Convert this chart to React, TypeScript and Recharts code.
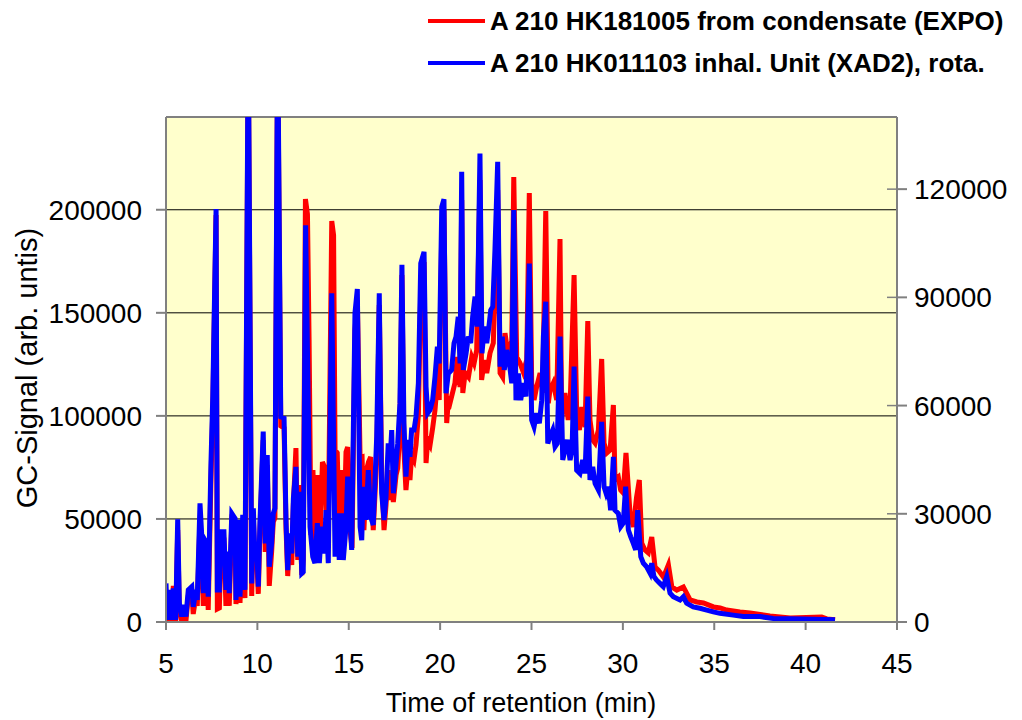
import { LineChart, Line, XAxis, YAxis, CartesianGrid, ReferenceLine } from 'recharts';

// retention time (min), GC signal — A 210 HK181005 from condensate (left axis)
const condensateTrace: [number, number][] = [
    [5.00, 15500], [5.07, 500], [5.22, 14600], [5.31, 500], [5.40, 17500], [5.53, 500], [5.64, 44600], [5.73, 5800],
    [5.86, 500], [5.98, 4900], [6.09, 500], [6.22, 12600], [6.41, 14600], [6.49, 3900], [6.64, 12600], [6.71, 7800],
    [6.86, 49500], [6.95, 37400], [7.04, 7800], [7.13, 34000], [7.23, 32000], [7.31, 5800], [7.46, 68900], [7.56, 102800],
    [7.74, 197400], [7.81, 6300], [7.92, 6800], [8.01, 39800], [8.17, 39800], [8.28, 7800], [8.38, 30100], [8.46, 7800],
    [8.60, 48500], [8.78, 46100], [8.83, 8700], [8.96, 45600], [9.05, 9200], [9.20, 47100], [9.32, 11600], [9.50, 280000],
    [9.69, 12600], [9.78, 50500], [9.87, 25200], [9.96, 32000], [10.05, 13600], [10.14, 43700], [10.32, 88300], [10.43, 34000],
    [10.54, 76200], [10.65, 17500], [10.78, 34000], [10.87, 48500], [10.96, 50500], [11.11, 280000], [11.28, 95100], [11.46, 94100],
    [11.57, 44600], [11.66, 22300], [11.75, 39800], [11.88, 27700], [11.97, 56800], [12.11, 84400], [12.21, 30100], [12.29, 66500],
    [12.43, 22800], [12.51, 30100], [12.63, 205200], [12.74, 197900], [12.83, 136800],
    [12.93, 42200], [13.04, 73700], [13.18, 37400], [13.32, 71300], [13.43, 39800], [13.56, 77600], [13.70, 74700], [13.81, 44600],
    [13.92, 76200], [14.07, 194500], [14.17, 187700], [14.25, 83400], [14.37, 82000], [14.49, 39800], [14.63, 73700], [14.74, 44600],
    [14.85, 82500], [14.94, 84900], [15.07, 44600], [15.18, 35900], [15.34, 141600], [15.47, 156200], [15.62, 79600], [15.73, 80000],
    [15.83, 44600], [15.97, 73700], [16.08, 77600], [16.20, 80000], [16.34, 44600], [16.53, 78600], [16.67, 153800], [16.80, 72300],
    [16.93, 44600], [17.04, 56800], [17.16, 73700], [17.26, 59200], [17.35, 69900], [17.44, 58200], [17.59, 71300], [17.68, 74700],
    [17.80, 93100], [17.91, 168300], [18.02, 83400], [18.13, 64000], [18.26, 77600], [18.35, 68900], [18.44, 81000], [18.57, 78600],
    [18.68, 85900], [18.81, 100400], [18.94, 161100], [19.12, 174600], [19.23, 77100], [19.32, 88300], [19.45, 85900], [19.59, 94100],
    [19.72, 102800], [19.85, 117400], [19.95, 107700], [20.09, 190200], [20.21, 199900], [20.36, 96500], [20.45, 107700],
    [20.54, 106200], [20.81, 115900], [20.94, 128600], [21.09, 114000], [21.18, 204700], [21.24, 111100], [21.37, 120800], [21.55, 118800],
    [21.73, 128600], [21.86, 125600], [22.00, 131900], [22.18, 214400], [22.27, 117400], [22.42, 127100], [22.55, 120800], [22.73, 130500],
    [22.91, 135300], [23.15, 209600], [23.28, 120800], [23.42, 118800], [23.55, 140200], [23.68, 131900], [23.82, 134400], [23.91, 127100],
    [24.03, 215900], [24.19, 128600], [24.37, 125600], [24.55, 121300], [24.74, 127100], [24.88, 208100], [25.01, 115900], [25.14, 107700],
    [25.28, 114000], [25.47, 120800], [25.61, 111100], [25.78, 199400], [25.92, 106200], [26.01, 112500], [26.19, 115900], [26.38, 107700],
    [26.56, 185800], [26.65, 98000], [26.83, 111100], [27.01, 98000], [27.11, 104300], [27.33, 168300], [27.47, 102800], [27.62, 93100],
    [27.75, 104300], [27.93, 94600], [28.08, 146000], [28.20, 98000], [28.35, 88300], [28.48, 86800], [28.66, 93100], [28.84, 127600],
    [28.97, 86800], [29.12, 82000], [29.30, 83400], [29.48, 105300], [29.57, 68900], [29.75, 70300], [29.88, 64000], [30.02, 62600],
    [30.17, 82000], [30.39, 52900], [30.57, 46100], [30.75, 60600], [30.90, 68900], [31.03, 38300], [31.21, 34900], [31.39, 33500],
    [31.58, 41200], [31.76, 26700], [31.94, 25200], [32.22, 21800], [32.49, 27700], [32.68, 17000], [32.95, 15500], [33.31, 17000],
    [33.68, 10700], [34.05, 9700], [34.41, 9200], [34.96, 7300], [35.32, 6800], [35.68, 5800], [36.41, 4900], [36.96, 4400],
    [38.05, 2900], [39.15, 1900], [40.88, 2400], [41.16, 1500], [41.61, 1100],
];

// retention time (min), GC signal — A 210 HK011103 inhal. unit (right axis)
const inhalationTrace: [number, number][] = [
    [5.00, 10700], [5.07, 600], [5.22, 8900], [5.31, 600], [5.40, 9300], [5.53, 600], [5.64, 28500], [5.73, 5200],
    [5.86, 1500], [5.98, 4700], [6.09, 1500], [6.22, 8900], [6.41, 9800], [6.49, 4200], [6.64, 8900], [6.71, 6100],
    [6.86, 32900], [6.95, 24600], [7.04, 8000], [7.13, 22700], [7.23, 21800], [7.31, 7000], [7.46, 44000], [7.56, 62500],
    [7.74, 114500], [7.81, 8900], [7.92, 8900], [8.01, 25000], [8.17, 25000], [8.28, 8900], [8.38, 19500], [8.46, 8000],
    [8.60, 30100], [8.78, 28700], [8.83, 6100], [8.96, 28300], [9.05, 7000], [9.20, 29700], [9.32, 8900], [9.50, 165000],
    [9.69, 10700], [9.78, 31500], [9.87, 17200], [9.96, 20900], [10.05, 9800], [10.14, 27400], [10.32, 52800], [10.43, 21800],
    [10.54, 46300], [10.65, 15300], [10.78, 21800], [10.87, 30100], [10.96, 31500], [11.11, 165000], [11.28, 56900], [11.46, 56500],
    [11.57, 27400], [11.66, 14400], [11.75, 24600], [11.88, 19000], [11.97, 34300], [12.11, 43000], [12.21, 18100], [12.29, 36100],
    [12.43, 13500], [12.51, 13900], [12.64, 110000], [12.88, 26400], [13.03, 18100], [13.15, 16300], [13.28, 27400], [13.39, 16300],
    [13.52, 26400], [13.65, 19000], [13.76, 31000], [13.88, 16300], [14.07, 91100], [14.25, 18100], [14.37, 30100], [14.48, 17200],
    [14.61, 30100], [14.70, 17200], [14.85, 26400], [14.94, 40300], [15.07, 28300], [15.16, 20000], [15.34, 85600], [15.47, 92300],
    [15.62, 26400], [15.71, 22700], [15.80, 37500], [15.94, 28300], [16.07, 42100], [16.20, 29200], [16.34, 26900], [16.53, 51400],
    [16.67, 91100], [16.80, 35700], [16.93, 28300], [17.04, 34700], [17.16, 49500], [17.26, 44900], [17.35, 53200], [17.44, 35700],
    [17.59, 44000], [17.68, 49500], [17.80, 60600], [17.91, 99000], [18.02, 55100], [18.13, 40300], [18.26, 50500], [18.35, 45800],
    [18.44, 53200], [18.57, 53200], [18.68, 56900], [18.81, 66200], [18.94, 99400], [19.12, 102600], [19.23, 65200], [19.32, 57900],
    [19.45, 58800], [19.59, 61500], [19.72, 68000], [19.85, 76300], [19.95, 71700], [20.09, 115100], [20.21, 117200], [20.32, 63400],
    [20.45, 68900], [20.63, 69900], [20.76, 77300], [20.87, 79100], [20.99, 84600], [21.09, 71700], [21.18, 124800], [21.27, 69900],
    [21.42, 74500], [21.54, 79100], [21.67, 77300], [21.78, 84600], [21.91, 90200], [22.03, 81900], [22.18, 129900], [22.29, 74500],
    [22.42, 81900], [22.55, 77300], [22.67, 81900], [22.77, 86500], [22.88, 87400], [23.00, 103100], [23.15, 127600], [23.28, 70800],
    [23.40, 79100], [23.51, 69900], [23.64, 75400], [23.79, 71700], [23.92, 66200], [24.03, 114200], [24.15, 61500], [24.28, 68900],
    [24.41, 61500], [24.55, 66200], [24.70, 62500], [24.88, 99400], [25.01, 56000], [25.14, 54100], [25.28, 57900], [25.43, 55100],
    [25.56, 61500], [25.65, 79100], [25.78, 88800], [25.89, 49500], [26.01, 51400], [26.16, 53200], [26.29, 48600], [26.41, 49500],
    [26.56, 79100], [26.71, 44900], [26.83, 47700], [26.96, 50500], [27.11, 44900], [27.22, 47700], [27.33, 70800], [27.47, 42100],
    [27.65, 41200], [27.80, 44900], [27.93, 41200], [28.08, 62500], [28.20, 39400], [28.35, 43000], [28.48, 38400], [28.66, 36600],
    [28.84, 55500], [28.97, 37500], [29.08, 35700], [29.20, 37500], [29.33, 31000], [29.48, 45800], [29.57, 31000], [29.75, 30100],
    [29.88, 26400], [30.02, 27400], [30.15, 37500], [30.30, 25500], [30.43, 23600], [30.57, 21800], [30.70, 20000], [30.81, 31000],
    [30.98, 18100], [31.12, 16300], [31.30, 15300], [31.49, 13500], [31.58, 16300], [31.70, 12600], [31.85, 11600], [32.03, 10700],
    [32.21, 9800], [32.40, 12600], [32.58, 8000], [32.76, 7000], [33.13, 6100], [33.31, 7000], [33.49, 5200], [33.85, 4200],
    [34.22, 3800], [34.59, 3300], [34.95, 2800], [35.31, 2400], [36.04, 1900], [36.59, 1500], [37.50, 1500], [38.23, 1000],
    [39.88, 800], [41.61, 600],
];

const timeTicks = [5, 10, 15, 20, 25, 30, 35, 40, 45];
const leftTicks = [0, 50000, 100000, 150000, 200000];
const rightTicks = [0, 30000, 60000, 90000, 120000];
const seriesNames = ['A 210 HK181005 from condensate (EXPO)', 'A 210 HK011103 inhal. Unit (XAD2), rota.'];
const seriesColors = ['#ff0000', '#0000ff'];

const WIDTH = 1022;
const HEIGHT = 720;
const FONT = '"Liberation Sans", Arial, sans-serif';
const AXIS_GREY = '#808080';
const TICK_FONT = 28;

const TICK_SIZE = 10;
const RIGHT_TICK_MARGIN = 7;

const condensateRows = condensateTrace.map(([time, signal]) => ({ time, signal }));
const inhalationRows = inhalationTrace.map(([time, signal]) => ({ time, signal }));

// right axis ticks cross the axis line, so draw the inner half as well
function RightTick(props: any) {
    const { x, y, payload } = props;
    const axisX = x - TICK_SIZE - RIGHT_TICK_MARGIN;
    return (
        <g>
            <line x1={axisX - TICK_SIZE} x2={axisX} y1={y} y2={y} stroke={AXIS_GREY} strokeWidth={1.5} />
            <text x={x} y={y} dy="0.36em" fontSize={TICK_FONT} fill="#000" textAnchor="start">
                {payload.value}
            </text>
        </g>
    );
}

function Legend() {
    return (
        <div style={{ position: 'absolute', left: 428, top: 0, fontFamily: FONT, fontWeight: 'bold', fontSize: 26 }}>
            {seriesNames.map((name, i) => (
                <div key={name} style={{ display: 'flex', alignItems: 'center', height: 42 }}>
                    <span style={{ display: 'inline-block', width: 57, height: 4, background: seriesColors[i], marginRight: 5 }} />
                    <span style={{ whiteSpace: 'nowrap' }}>{name}</span>
                </div>
            ))}
        </div>
    );
}

export default function App() {
    return (
        <div style={{ position: 'absolute', left: 0, top: 0, width: WIDTH, height: HEIGHT, background: '#fff', fontFamily: FONT }}>
            <LineChart width={WIDTH} height={HEIGHT} margin={{ top: 117, right: 65, bottom: 58, left: 106 }}>
                <CartesianGrid yAxisId="left" vertical={false} stroke="#000" fill="#ffffcc" />
                <XAxis
                    type="number"
                    dataKey="time"
                    domain={[5, 45]}
                    ticks={timeTicks}
                    allowDataOverflow
                    height={40}
                    stroke={AXIS_GREY}
                    strokeWidth={2}
                    tickSize={8}
                    tickMargin={23}
                    tick={{ fontSize: TICK_FONT, fill: '#000' }}
                />
                <YAxis
                    yAxisId="left"
                    orientation="left"
                    domain={[0, 245000]}
                    ticks={leftTicks}
                    allowDataOverflow
                    width={60}
                    stroke={AXIS_GREY}
                    strokeWidth={2}
                    tickSize={TICK_SIZE}
                    tickMargin={14}
                    tick={{ fontSize: TICK_FONT, fill: '#000' }}
                />
                <YAxis
                    yAxisId="right"
                    orientation="right"
                    domain={[0, 140000]}
                    ticks={rightTicks}
                    allowDataOverflow
                    width={60}
                    stroke={AXIS_GREY}
                    strokeWidth={2}
                    tickSize={TICK_SIZE}
                    tickMargin={RIGHT_TICK_MARGIN}
                    tick={<RightTick />}
                />
                <ReferenceLine yAxisId="left" y={245000} stroke={AXIS_GREY} strokeWidth={2} />
                <Line
                    data={condensateRows}
                    yAxisId="left"
                    dataKey="signal"
                    name={seriesNames[0]}
                    stroke={seriesColors[0]}
                    strokeWidth={5}
                    dot={false}
                    type="linear"
                    isAnimationActive={false}
                />
                <Line
                    data={inhalationRows}
                    yAxisId="right"
                    dataKey="signal"
                    name={seriesNames[1]}
                    stroke={seriesColors[1]}
                    strokeWidth={5}
                    dot={false}
                    type="linear"
                    isAnimationActive={false}
                />
            </LineChart>
            <Legend />
            <div
                style={{
                    position: 'absolute',
                    left: 27,
                    top: 368,
                    transform: 'translate(-50%, -50%) rotate(-90deg)',
                    fontSize: 29,
                    whiteSpace: 'nowrap',
                }}
            >
                GC-Signal (arb. untis)
            </div>
            <div
                style={{
                    position: 'absolute',
                    left: 521,
                    top: 703,
                    transform: 'translate(-50%, -50%)',
                    fontSize: 27,
                    whiteSpace: 'nowrap',
                }}
            >
                Time of retention (min)
            </div>
        </div>
    );
}
